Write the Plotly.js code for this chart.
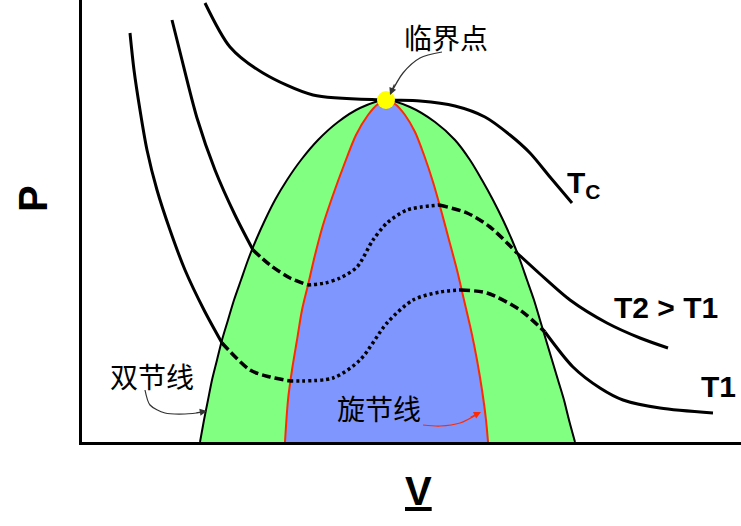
<!DOCTYPE html>
<html><head><meta charset="utf-8">
<script src="https://cdn.plot.ly/plotly-3.0.1.min.js"></script>
<style>html,body{margin:0;padding:0;background:#fff}#chart{width:741px;height:526px}</style>
</head><body><div id="chart"></div>
<script>
// Binodal (双节线) boundary
const binodalV = [200,204,208,212,217,222,228,234,241,248,256,265,275,287,301,318,338,360,386,410,435,455,470,482,493,503,512,520,527,534,540,546,552,558,564,569,575];
const binodalP = [0,22,42,62,82,102,122,142,162,182,202,222,242,262,282,302,320,334,342,335,320,302,282,262,242,222,202,182,162,142,122,102,82,62,42,22,0];
// Spinodal (旋节线) boundary
const spinodalV = [285,288,292,297,302,308,315,323,333,344,356,368,378,386,395,405,415,424,433,441,449,457,464,471,477,482,486,488];
const spinodalP = [0,42,72,102,132,157,187,217,247,277,307,327,338,342,338,327,310,287,260,232,202,172,142,112,82,52,22,0];
// Critical isotherm Tc
const tcV = [205,230,263,313,386,420,455,485,510,530,550,572];
const tcP = [439,395,369,347,342,341,336,325,307,289,265,239];
// Isotherm T2 segments
const t2SolidLV = [172,180,197,215,235,253];
const t2SolidLP = [422,390,324,272,227,192];
const t2DashLV = [253,270,290,308];
const t2DashLP = [192,177,164,157];
const t2DotV = [308,325,340,357,373,387,407,439];
const t2DotP = [157,159,164,175,202,219,232,237];
const t2DashRV = [439,467,490,517];
const t2DashRP = [237,229,215,189];
const t2SolidRV = [517,540,570,607,640,668];
const t2SolidRP = [189,168,142,119,104,94];
// Isotherm T1 segments
const t1SolidLV = [130,134,140,147,157,170,185,204,222];
const t1SolidLP = [409,372,332,292,252,212,172,132,99];
const t1DashLV = [222,250,270,290];
const t1DashLP = [99,72,65,61];
const t1DotV = [290,333,360,387,413,440,461];
const t1DotP = [61,64,82,119,142,150,152];
const t1DashRV = [461,487,520,545];
const t1DashRP = [152,149,132,110];
const t1SolidRV = [545,573,600,623,660,713];
const t1SolidRP = [110,75,54,42,34,29];
// Critical point
const critV = [386], critP = [342];
// Pointer curves
const critArrowV = [442,420,403,390];
const critArrowP = [390,384,369,347];
const binArrowV = [145,150,165,185,205];
const binArrowP = [52,37,29,28,30];
const spinArrowV = [423,440,460,478];
const spinArrowP = [17,16,19,28];
// Labels
const labels = [
  {text:'临界点', v:446, p:405, cjk:true},
  {text:'双节线', v:152, p:66, cjk:true},
  {text:'旋节线', v:379, p:34, cjk:true},
  {text:'T2 > T1', v:666, p:135, cjk:false},
  {text:'T1', v:718, p:56, cjk:false}
];
const axisLabelP = '<b>P</b>';
const axisLabelV = '<b><u>V</u></b>';

const spl = {shape:'spline', smoothing:0.8};
function line(x,y,color,width,dash){
  return {x:x,y:y,mode:'lines',type:'scatter',hoverinfo:'skip',
    line:Object.assign({color:color,width:width,dash:dash||'solid'},spl)};
}
const traces = [
  {x:binodalV,y:binodalP,type:'scatter',mode:'lines',fill:'toself',fillcolor:'#80ff80',line:Object.assign({width:0,color:'#80ff80'},spl),hoverinfo:'skip'},
  line(binodalV,binodalP,'#000',2),
  {x:spinodalV,y:spinodalP,type:'scatter',mode:'lines',fill:'toself',fillcolor:'#8096ff',line:Object.assign({width:0,color:'#8096ff'},spl),hoverinfo:'skip'},
  line(spinodalV,spinodalP,'#ff2a00',2),
  line(tcV,tcP,'#000',3),
  line(t2SolidLV,t2SolidLP,'#000',3),
  line(t2DashLV,t2DashLP,'#000',3.5,'9px,4px'),
  line(t2DotV,t2DotP,'#000',3.5,'3px,3px'),
  line(t2DashRV,t2DashRP,'#000',3.5,'9px,4px'),
  line(t2SolidRV,t2SolidRP,'#000',3),
  line(t1SolidLV,t1SolidLP,'#000',3),
  line(t1DashLV,t1DashLP,'#000',3.5,'9px,4px'),
  line(t1DotV,t1DotP,'#000',3.5,'3px,3px'),
  line(t1DashRV,t1DashRP,'#000',3.5,'9px,4px'),
  line(t1SolidRV,t1SolidRP,'#000',3),
  line(critArrowV,critArrowP,'#333',1.2),
  line(binArrowV,binArrowP,'#333',1.2),
  line(spinArrowV,spinArrowP,'#ff2a00',1.2),
  {x:critV,y:critP,type:'scatter',mode:'markers',marker:{size:18,color:'#ffff00'},hoverinfo:'skip'}
];

const annotations = labels.map(l => ({
  text:l.text, x:l.v, y:l.p, xref:'x', yref:'y', showarrow:false,
  xanchor:'center', yanchor:'middle',
  font: l.cjk ? {family:'Noto Sans CJK SC', size:28, color:'#000'}
              : {family:'Liberation Sans, Arial', size:30, color:'#000', weight:'bold'}
}));
annotations.push({text:'<b>T<sub>C</sub></b>', x:565, y:258, xref:'x', yref:'y', showarrow:false,
  xanchor:'left', yanchor:'middle', font:{family:'Liberation Sans, Arial', size:30, color:'#000'}});
annotations.push({text:axisLabelP, x:-0.0744, y:0.552, xref:'paper', yref:'paper', showarrow:false, textangle:-90,
  xanchor:'center', yanchor:'middle', font:{family:'Liberation Sans, Arial', size:40, color:'#000'}});
annotations.push({text:axisLabelV, x:0.51, y:-0.11, xref:'paper', yref:'paper', showarrow:false,
  xanchor:'center', yanchor:'middle', font:{family:'Liberation Sans, Arial', size:40, color:'#000'}});
// arrow heads
annotations.push({x:critArrowV[3], y:critArrowP[3], ax:5, ay:-12, xref:'x', yref:'y', text:'', showarrow:true, arrowhead:2, arrowsize:1.2, arrowwidth:1.2, arrowcolor:'#333'});
annotations.push({x:binArrowV[4]+2, y:binArrowP[4]+1, ax:-12, ay:2, xref:'x', yref:'y', text:'', showarrow:true, arrowhead:2, arrowsize:1.2, arrowwidth:1.2, arrowcolor:'#333'});
annotations.push({x:spinArrowV[3]+3, y:spinArrowP[3]+2, ax:-12, ay:6, xref:'x', yref:'y', text:'', showarrow:true, arrowhead:2, arrowsize:1.2, arrowwidth:1.2, arrowcolor:'#ff2a00'});

const layout = {
  width:741, height:526, showlegend:false,
  margin:{l:82, r:0, t:0, b:84},
  paper_bgcolor:'#fff', plot_bgcolor:'#fff',
  xaxis:{range:[82,741], showline:true, linewidth:3, linecolor:'#000', showgrid:false, zeroline:false, showticklabels:false, ticks:'', fixedrange:true},
  yaxis:{range:[0,442], showline:true, linewidth:3, linecolor:'#000', showgrid:false, zeroline:false, showticklabels:false, ticks:'', fixedrange:true},
  annotations:annotations
};
Plotly.newPlot('chart', traces, layout, {displayModeBar:false, staticPlot:true});
</script></body></html>
